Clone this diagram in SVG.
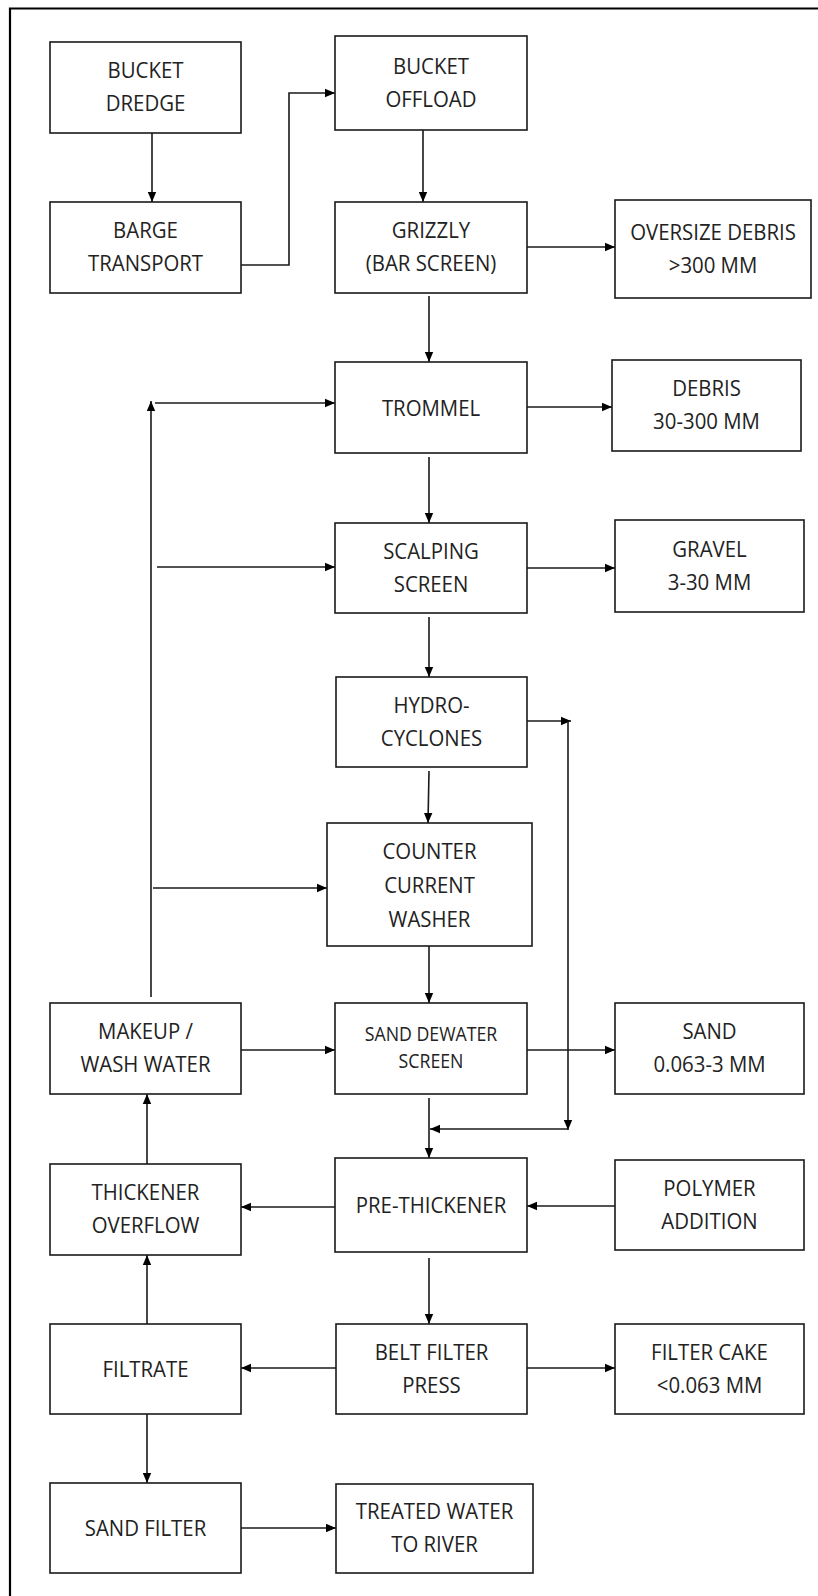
<svg xmlns="http://www.w3.org/2000/svg" width="818" height="1596" viewBox="0 0 818 1596">
<defs>
<style>
.b{fill:#fff;stroke:#1a1a1a;stroke-width:1.6}
.t{font-family:"Open Sans","Liberation Sans",sans-serif;font-size:22.4px;fill:#222;text-anchor:middle}
.s{font-size:19.5px}
.c{fill:none;stroke:#1a1a1a;stroke-width:1.6}
.f{fill:none;stroke:#000;stroke-width:2.2}
</style>
<marker id="a" viewBox="0 0 10 10" refX="10" refY="5" markerWidth="10" markerHeight="10" markerUnits="userSpaceOnUse" orient="auto"><path d="M0,0.8L10,5L0,9.2Z" fill="#000"/></marker>
</defs>
<rect width="818" height="1596" fill="#fff"/>
<path class="f" d="M10,1596V8.5H818"/>
<g id="connectors">
<path class="c" marker-end="url(#a)" d="M152,133V202"/>
<path class="c" marker-end="url(#a)" d="M241,265H289V93H335"/>
<path class="c" marker-end="url(#a)" d="M423,130V202"/>
<path class="c" marker-end="url(#a)" d="M527,247H615"/>
<path class="c" marker-end="url(#a)" d="M429,296V362"/>
<path class="c" marker-end="url(#a)" d="M527,407H612"/>
<path class="c" marker-end="url(#a)" d="M429,457V523"/>
<path class="c" marker-end="url(#a)" d="M527,568H615"/>
<path class="c" marker-end="url(#a)" d="M151,997V401"/>
<path class="c" marker-end="url(#a)" d="M155,403H335"/>
<path class="c" marker-end="url(#a)" d="M157,567H335"/>
<path class="c" marker-end="url(#a)" d="M429,617V677"/>
<path class="c" marker-end="url(#a)" d="M527,721H571"/>
<path class="c" marker-end="url(#a)" d="M568,721V1130"/>
<path class="c" marker-end="url(#a)" d="M568,1129H430"/>
<path class="c" marker-end="url(#a)" d="M429,771L428,823"/>
<path class="c" marker-end="url(#a)" d="M153,888H327"/>
<path class="c" marker-end="url(#a)" d="M429,946V1003"/>
<path class="c" marker-end="url(#a)" d="M241,1050H335"/>
<path class="c" marker-end="url(#a)" d="M527,1050H615"/>
<path class="c" marker-end="url(#a)" d="M429,1098V1158"/>
<path class="c" marker-end="url(#a)" d="M336,1207H241"/>
<path class="c" marker-end="url(#a)" d="M615,1206H527"/>
<path class="c" marker-end="url(#a)" d="M147,1164V1094"/>
<path class="c" marker-end="url(#a)" d="M429,1258V1324"/>
<path class="c" marker-end="url(#a)" d="M336,1368H241"/>
<path class="c" marker-end="url(#a)" d="M527,1368H615"/>
<path class="c" marker-end="url(#a)" d="M147,1324V1255"/>
<path class="c" marker-end="url(#a)" d="M147,1414V1483"/>
<path class="c" marker-end="url(#a)" d="M241,1528H336"/>
</g>
<g id="n-dredge"><rect class="b" x="50" y="42" width="191" height="91"/><text class="t" transform="translate(145.5 78) scale(.91 1)">BUCKET</text><text class="t" transform="translate(145.5 111) scale(.91 1)">DREDGE</text></g>
<g id="n-barge"><rect class="b" x="50" y="202" width="191" height="91"/><text class="t" transform="translate(145.5 238) scale(.91 1)">BARGE</text><text class="t" transform="translate(145.5 271) scale(.91 1)">TRANSPORT</text></g>
<g id="n-offload"><rect class="b" x="335" y="36" width="192" height="94"/><text class="t" transform="translate(431 73.5) scale(.91 1)">BUCKET</text><text class="t" transform="translate(431 106.5) scale(.91 1)">OFFLOAD</text></g>
<g id="n-grizzly"><rect class="b" x="335" y="202" width="192" height="91"/><text class="t" transform="translate(431 238) scale(.91 1)">GRIZZLY</text><text class="t" transform="translate(431 271) scale(.91 1)">(BAR SCREEN)</text></g>
<g id="n-oversize"><rect class="b" x="615" y="200" width="196" height="98"/><text class="t" transform="translate(713 239.5) scale(.91 1)">OVERSIZE DEBRIS</text><text class="t" transform="translate(713 272.5) scale(.91 1)">&gt;300 MM</text></g>
<g id="n-trommel"><rect class="b" x="335" y="362" width="192" height="91"/><text class="t" transform="translate(431 415.5) scale(.91 1)">TROMMEL</text></g>
<g id="n-debris"><rect class="b" x="612" y="360" width="189" height="91"/><text class="t" transform="translate(706.5 396) scale(.91 1)">DEBRIS</text><text class="t" transform="translate(706.5 429) scale(.91 1)">30-300 MM</text></g>
<g id="n-scalping"><rect class="b" x="335" y="523" width="192" height="90"/><text class="t" transform="translate(431 558.5) scale(.91 1)">SCALPING</text><text class="t" transform="translate(431 591.5) scale(.91 1)">SCREEN</text></g>
<g id="n-gravel"><rect class="b" x="615" y="520" width="189" height="92"/><text class="t" transform="translate(709.5 556.5) scale(.91 1)">GRAVEL</text><text class="t" transform="translate(709.5 589.5) scale(.91 1)">3-30 MM</text></g>
<g id="n-hydro"><rect class="b" x="336" y="677" width="191" height="90"/><text class="t" transform="translate(431.5 712.5) scale(.91 1)">HYDRO-</text><text class="t" transform="translate(431.5 745.5) scale(.91 1)">CYCLONES</text></g>
<g id="n-counter"><rect class="b" x="327" y="823" width="205" height="123"/><text class="t" transform="translate(429.5 858.5) scale(.91 1)">COUNTER</text><text class="t" transform="translate(429.5 892.5) scale(.91 1)">CURRENT</text><text class="t" transform="translate(429.5 926.5) scale(.91 1)">WASHER</text></g>
<g id="n-makeup"><rect class="b" x="50" y="1003" width="191" height="91"/><text class="t" transform="translate(145.5 1039) scale(.91 1)">MAKEUP /</text><text class="t" transform="translate(145.5 1072) scale(.91 1)">WASH WATER</text></g>
<g id="n-sanddewater"><rect class="b" x="335" y="1003" width="192" height="91"/><text class="t s" transform="translate(431 1041) scale(.91 1)">SAND DEWATER</text><text class="t s" transform="translate(431 1068) scale(.91 1)">SCREEN</text></g>
<g id="n-sand"><rect class="b" x="615" y="1003" width="189" height="91"/><text class="t" transform="translate(709.5 1039) scale(.91 1)">SAND</text><text class="t" transform="translate(709.5 1072) scale(.91 1)">0.063-3 MM</text></g>
<g id="n-thickoverflow"><rect class="b" x="50" y="1164" width="191" height="91"/><text class="t" transform="translate(145.5 1200) scale(.91 1)">THICKENER</text><text class="t" transform="translate(145.5 1233) scale(.91 1)">OVERFLOW</text></g>
<g id="n-prethick"><rect class="b" x="335" y="1158" width="192" height="94"/><text class="t" transform="translate(431 1213) scale(.91 1)">PRE-THICKENER</text></g>
<g id="n-polymer"><rect class="b" x="615" y="1160" width="189" height="90"/><text class="t" transform="translate(709.5 1195.5) scale(.91 1)">POLYMER</text><text class="t" transform="translate(709.5 1228.5) scale(.91 1)">ADDITION</text></g>
<g id="n-filtrate"><rect class="b" x="50" y="1324" width="191" height="90"/><text class="t" transform="translate(145.5 1377) scale(.91 1)">FILTRATE</text></g>
<g id="n-belt"><rect class="b" x="336" y="1324" width="191" height="90"/><text class="t" transform="translate(431.5 1359.5) scale(.91 1)">BELT FILTER</text><text class="t" transform="translate(431.5 1392.5) scale(.91 1)">PRESS</text></g>
<g id="n-filtercake"><rect class="b" x="615" y="1324" width="189" height="90"/><text class="t" transform="translate(709.5 1359.5) scale(.91 1)">FILTER CAKE</text><text class="t" transform="translate(709.5 1392.5) scale(.91 1)">&lt;0.063 MM</text></g>
<g id="n-sandfilter"><rect class="b" x="50" y="1483" width="191" height="90"/><text class="t" transform="translate(145.5 1536) scale(.91 1)">SAND FILTER</text></g>
<g id="n-treated"><rect class="b" x="336" y="1484" width="197" height="89"/><text class="t" transform="translate(434.5 1519) scale(.91 1)">TREATED WATER</text><text class="t" transform="translate(434.5 1552) scale(.91 1)">TO RIVER</text></g>
</svg>
